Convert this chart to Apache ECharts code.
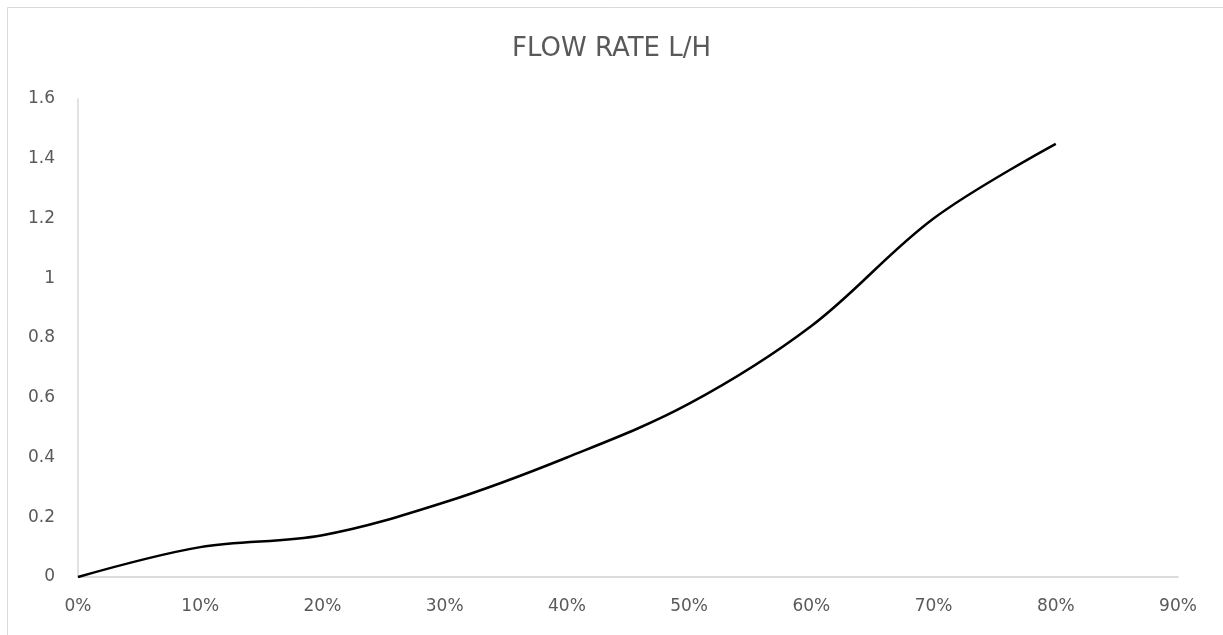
<!DOCTYPE html>
<html>
<head>
<meta charset="utf-8">
<script src="https://cdn.jsdelivr.net/npm/echarts@6/dist/echarts.min.js"></script>
<style>
html,body{margin:0;padding:0;background:#fff;}
#chart{width:1223px;height:635px;}
</style>
</head>
<body>
<div id="chart"></div>
<script>
// Data
const openingPct = [0, 0.10, 0.20, 0.30, 0.40, 0.50, 0.60, 0.70, 0.80];
const flowRate   = [0, 0.10, 0.14, 0.25, 0.40, 0.58, 0.84, 1.20, 1.45];
const titleText = 'FLOW RATE L/H';

const seriesData = openingPct.map((x, i) => [x, flowRate[i]]);
const labelFont = 'DejaVu Sans';
const chart = echarts.init(document.getElementById('chart'), null, {renderer: 'canvas'});
chart.setOption({
  backgroundColor: '#fff',
  animation: false,
  graphic: [{
    type: 'rect',
    shape: {x: 7.5, y: 7.5, width: 1400, height: 800},
    style: {fill: 'none', stroke: '#d9d9d9', lineWidth: 1},
    silent: true
  }],
  title: {
    text: titleText,
    left: 'center',
    top: 31,
    textStyle: {fontFamily: labelFont, fontSize: 26, fontWeight: 'normal', color: '#595959'}
  },
  grid: {left: 78, right: 45, top: 99, bottom: 58, containLabel: false},
  xAxis: {
    type: 'value',
    min: 0, max: 0.9, interval: 0.1,
    axisLine: {show: true, lineStyle: {color: '#d0d0d0', width: 1.5}},
    axisTick: {show: false},
    splitLine: {show: false},
    axisLabel: {
      margin: 21,
      fontFamily: labelFont, fontSize: 17, color: '#595959',
      formatter: v => Math.round(v * 100) + '%'
    }
  },
  yAxis: {
    type: 'value',
    min: 0, max: 1.6, interval: 0.2,
    axisLine: {show: true, lineStyle: {color: '#d9d9d9', width: 1.5}},
    axisTick: {show: false},
    splitLine: {show: false},
    axisLabel: {
      margin: 23,
      fontFamily: labelFont, fontSize: 17, color: '#595959',
      formatter: v => String(+v.toFixed(1))
    }
  },
  series: [{
    type: 'line',
    data: seriesData,
    smooth: 0.35,
    showSymbol: false,
    symbol: 'none',
    lineStyle: {color: '#000', width: 2.5}
  }]
});
</script>
</body>
</html>
